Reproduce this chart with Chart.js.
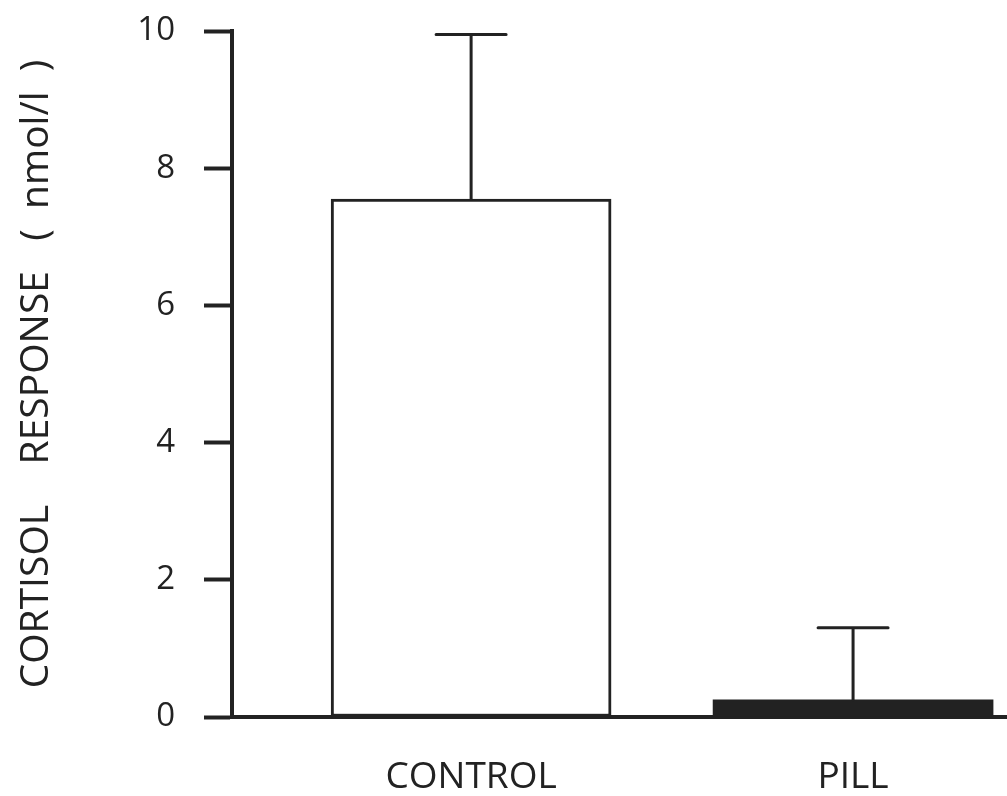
<!DOCTYPE html>
<html>
<head>
<meta charset="utf-8">
<style>
  html, body { margin: 0; padding: 0; background: #fff; }
  #wrap { width: 1007px; height: 796px; }
</style>
<script src="https://cdn.jsdelivr.net/npm/chart.js@4/dist/chart.umd.min.js"></script>
</head>
<body>
<div id="wrap"><canvas id="chart" width="1007" height="796"></canvas></div>
<script>
const categories = ["CONTROL", "PILL"];
const means = [7.55, 0.25];
const errorTops = [9.95, 1.3];
const yTicks = [0, 2, 4, 6, 8, 10];

const ink = "#222";
const font = "'Open Sans', 'Liberation Sans', sans-serif";

// error whiskers drawn from bar tops through the y scale
const errorBars = {
  id: "errorBars",
  afterDatasetsDraw(chart) {
    const ctx = chart.ctx;
    const y = chart.scales.y;
    const meta = chart.getDatasetMeta(0);
    ctx.save();
    ctx.strokeStyle = ink;
    ctx.lineWidth = 3;
    ctx.lineCap = "round";
    meta.data.forEach((bar, i) => {
      const top = y.getPixelForValue(errorTops[i]);
      ctx.beginPath();
      ctx.moveTo(bar.x, bar.y);
      ctx.lineTo(bar.x, top);
      ctx.moveTo(bar.x - 35, top);
      ctx.lineTo(bar.x + 35, top);
      ctx.stroke();
    });
    ctx.restore();
  }
};

new Chart(document.getElementById("chart"), {
  type: "bar",
  data: {
    datasets: [{
      data: categories.map((c, i) => ({ x: i, y: means[i] })),
      backgroundColor: ["#fff", ink],
      borderColor: ink,
      borderWidth: [3, 0],
      borderSkipped: false,
      barThickness: 280
    }]
  },
  options: {
    responsive: false,
    animation: false,
    layout: { padding: { top: 31, left: 0, right: 0, bottom: 0 } },
    plugins: { legend: { display: false }, tooltip: { enabled: false } },
    scales: {
      x: {
        type: "linear",
        offset: false,
        min: -0.626,
        max: 1.403,
        afterBuildTicks: (s) => { s.ticks = categories.map((c, i) => ({ value: i })); },
        afterFit: (s) => { s.height = 79; s.paddingLeft = 0; s.paddingRight = 0; },
        grid: { display: false },
        border: { display: true, color: ink, width: 4 },
        ticks: {
          callback: (v) => categories[v] ?? "",
          color: ink,
          padding: 30,
          font: { family: font, size: 37 }
        }
      },
      y: {
        min: 0,
        max: 10,
        afterBuildTicks: (s) => { s.ticks = yTicks.map(v => ({ value: v })); },
        afterFit: (s) => { s.width = 232; s.paddingTop = 0; s.paddingBottom = 0; },
        grid: { display: true, drawOnChartArea: false, drawTicks: true, tickLength: 28, tickWidth: 4, tickColor: ink },
        border: { display: true, color: ink, width: 4 },
        ticks: {
          color: ink,
          padding: 29,
          font: { family: font, size: 33 }
        },
        title: {
          display: true,
          text: "CORTISOL    RESPONSE   (  nmol/l  )",
          color: ink,
          padding: { top: 13, bottom: 0 },
          font: { family: font, size: 39 }
        }
      }
    }
  },
  plugins: [errorBars]
});
</script>
</body>
</html>
